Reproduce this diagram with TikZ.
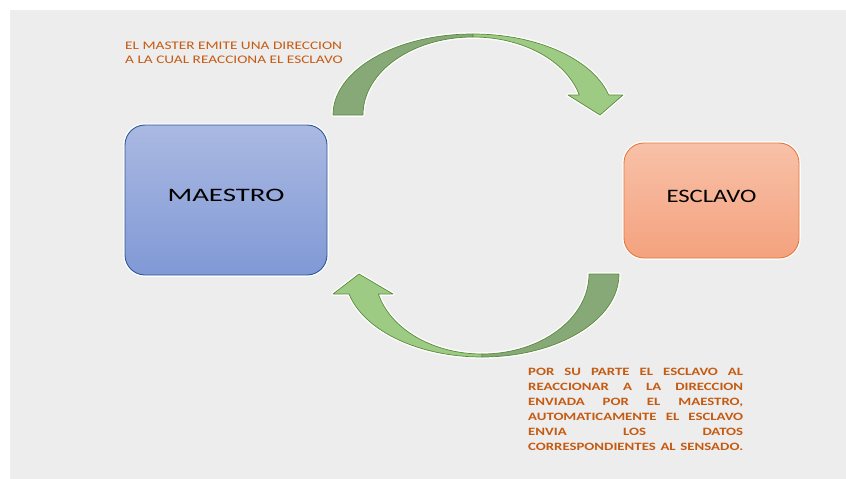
\documentclass[tikz,border=0pt]{standalone}
\usepackage{fontspec}
\setmainfont{Carlito}
\newfontfamily\fA{Carlito}[FakeStretch=1.32]
\newfontfamily\fM{Carlito}[FakeStretch=1.52]
\newfontfamily\fE{Carlito}[FakeStretch=1.30]
\newcommand{\jl}[1]{\makebox[215pt][s]{#1}}
\definecolor{bg}{HTML}{EDEDED}
\definecolor{txtor}{HTML}{C55A11}
\definecolor{mtop}{HTML}{AAB9E2}
\definecolor{mbot}{HTML}{8099D5}
\definecolor{mbord}{HTML}{2F5597}
\definecolor{etop}{HTML}{F8C1A8}
\definecolor{ebot}{HTML}{F4A27E}
\definecolor{ebord}{HTML}{E4793F}
\definecolor{gdark}{HTML}{86A977}
\definecolor{glight}{HTML}{9DCB84}
\definecolor{gbord}{HTML}{5B8A3C}
\tikzset{
  box/.style={rectangle, rounded corners=20pt, line width=0.9pt, inner sep=0pt,
    preaction={draw=white, line width=3.5pt}},
  halo/.style={draw=white, line width=3.5pt, line join=round},
  darkpart/.style={fill=gdark, draw=gbord, line width=0.7pt, line join=round},
  lightpart/.style={fill=glight, draw=gbord, line width=0.7pt, line join=round},
  note/.style={anchor=north west, inner sep=0pt, align=left, text=txtor}
}
\begin{document}
\begin{tikzpicture}[x=1pt,y=1pt]
\useasboundingbox (0,0) rectangle (846,-479);
\fill[white] (0,0) rectangle (846,-479);
\fill[bg] (10,-10) rectangle (846,-479);

% boxes
\node[box, draw=mbord, top color=mtop, bottom color=mbot,
  minimum width=202pt, minimum height=150pt] (maestro) at (226,-200)
  {\raisebox{9pt}{\fM\fontsize{19}{19}\selectfont MAESTRO}};
\node[box, draw=ebord, top color=etop, bottom color=ebot,
  minimum width=175pt, minimum height=115pt] (esclavo) at (711.5,-200.5)
  {\raisebox{9pt}{\fE\fontsize{19}{19}\selectfont ESCLAVO}};

% top curved arrow
\draw[halo] (333,-115) arc[start angle=180, end angle=14.3, x radius=140, y radius=81]
  -- (623,-95) -- (600,-115) -- (568,-95) -- (579.3,-95)
  arc[start angle=14.86, end angle=180, x radius=110, y radius=78] -- cycle;
\path[darkpart] (333,-115) arc[start angle=180, end angle=90, x radius=140, y radius=81]
  -- (473,-37) arc[start angle=90, end angle=180, x radius=110, y radius=78] -- cycle;
\path[lightpart] (473,-34) arc[start angle=90, end angle=14.3, x radius=140, y radius=81]
  -- (623,-95) -- (600,-115) -- (568,-95) -- (579.3,-95)
  arc[start angle=14.86, end angle=90, x radius=110, y radius=78] -- cycle;

% bottom curved arrow
\draw[halo] (619,-274) arc[start angle=0, end angle=-166.06, x radius=137, y radius=83]
  -- (333,-294) -- (359,-274) -- (393,-294) -- (378.4,-294)
  arc[start angle=-165.52, end angle=0, x radius=107, y radius=80] -- cycle;
\path[darkpart] (619,-274) arc[start angle=0, end angle=-90, x radius=137, y radius=83]
  -- (482,-354) arc[start angle=-90, end angle=0, x radius=107, y radius=80] -- cycle;
\path[lightpart] (482,-357) arc[start angle=270, end angle=193.94, x radius=137, y radius=83]
  -- (333,-294) -- (359,-274) -- (393,-294) -- (378.4,-294)
  arc[start angle=194.48, end angle=270, x radius=107, y radius=80] -- cycle;

% texts
\node[note, font=\fA\fontsize{11.6}{14}\selectfont] (t1) at (125,-41.7)
  {EL MASTER EMITE UNA DIRECCION\\A LA CUAL REACCIONA EL ESCLAVO};
\node[note, font=\fA\bfseries\fontsize{11.2}{14.9}\selectfont] (t2) at (528,-368)
  {\jl{POR SU PARTE EL ESCLAVO AL}\\
   \jl{REACCIONAR A LA DIRECCION}\\
   \jl{ENVIADA POR EL MAESTRO,}\\
   \jl{AUTOMATICAMENTE EL ESCLAVO}\\
   \jl{ENVIA LOS DATOS}\\
   \jl{CORRESPONDIENTES AL SENSADO.}};
\end{tikzpicture}
\end{document}
